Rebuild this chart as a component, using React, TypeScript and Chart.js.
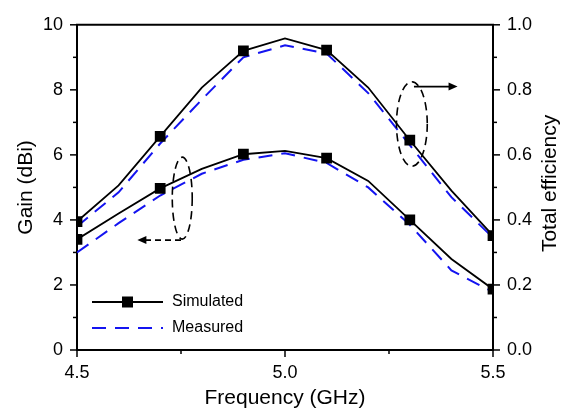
import React, { useEffect, useRef } from "react";
import { Chart, registerables } from "chart.js";

Chart.register(...registerables);

const freqs = [4.5, 4.6, 4.7, 4.8, 4.9, 5.0, 5.1, 5.2, 5.3, 5.4, 5.5];
const gainSimulated = [3.4, 4.2, 4.97, 5.57, 6.02, 6.12, 5.9, 5.2, 4.0, 2.8, 1.87];
const gainMeasured = [3.0, 3.9, 4.75, 5.42, 5.85, 6.05, 5.75, 5.0, 3.85, 2.45, 1.78];
const effSimulated = [0.395, 0.506, 0.657, 0.807, 0.92, 0.958, 0.922, 0.807, 0.645, 0.49, 0.352];
const effMeasured = [0.38, 0.485, 0.635, 0.77, 0.9, 0.937, 0.912, 0.79, 0.63, 0.47, 0.345];
const markerEvery = 2;
const xTicks = [4.5, 5.0, 5.5];
const xMinorTicks = [4.75, 5.25];
const gainTicks = [0, 2, 4, 6, 8, 10];
const gainMinorTicks = [1, 3, 5, 7, 9];
const effTicks = [0, 0.2, 0.4, 0.6, 0.8, 1.0];
const effMinorTicks = [0.1, 0.3, 0.5, 0.7, 0.9];
const legendLabels = ["Simulated", "Measured"];
const xTitle = "Frequency (GHz)";
const gainTitle = "Gain (dBi)";
const effTitle = "Total efficiency";

const FONT = "'Liberation Sans', Arial, sans-serif";
const BLUE = "#1414f0";
const DASH = [14, 9];
const TICK_SIZE = 18;
const TITLE_SIZE = 21;

const toPts = (ys: number[]) => freqs.map((x, i) => ({ x, y: ys[i] }));
const markerRadii = freqs.map((_, i) => (i % markerEvery === 0 ? 7.6 : 0));

const decorPlugin = {
  id: "decor",
  afterDraw(chart: any) {
    const { ctx, chartArea: a, scales } = chart;
    const xs = scales.x, yl = scales.y, yr = scales.y2;
    ctx.save();
    ctx.strokeStyle = "#000";
    ctx.lineWidth = 2;
    // top border
    ctx.beginPath();
    ctx.moveTo(a.left - 1, a.top);
    ctx.lineTo(a.right + 1, a.top);
    ctx.stroke();
    // ticks
    ctx.lineWidth = 1.5;
    const tick = (x1: number, y1: number, x2: number, y2: number) => {
      ctx.beginPath();
      ctx.moveTo(x1, y1);
      ctx.lineTo(x2, y2);
      ctx.stroke();
    };
    gainTicks.forEach((v) => { const y = yl.getPixelForValue(v); tick(a.left - 7, y, a.left, y); });
    gainMinorTicks.forEach((v) => { const y = yl.getPixelForValue(v); tick(a.left - 4, y, a.left, y); });
    effTicks.forEach((v) => { const y = yr.getPixelForValue(v); tick(a.right, y, a.right + 7, y); });
    effMinorTicks.forEach((v) => { const y = yr.getPixelForValue(v); tick(a.right, y, a.right + 4, y); });
    xTicks.forEach((v) => { const x = xs.getPixelForValue(v); tick(x, a.bottom, x, a.bottom + 7); });
    xMinorTicks.forEach((v) => { const x = xs.getPixelForValue(v); tick(x, a.bottom, x, a.bottom + 4); });

    // right title
    ctx.save();
    ctx.fillStyle = "#000";
    ctx.font = `${TITLE_SIZE}px ${FONT}`;
    ctx.textAlign = "center";
    ctx.textBaseline = "middle";
    ctx.translate(550, (a.top + a.bottom) / 2 - 4);
    ctx.rotate(-Math.PI / 2);
    ctx.fillText(effTitle, 0, 0);
    ctx.restore();

    // annotations: ellipses + arrows
    ctx.strokeStyle = "#000";
    ctx.lineWidth = 1.6;
    ctx.setLineDash([8, 5]);
    // left ellipse (gain)
    let cx = xs.getPixelForValue(4.753), cy = yl.getPixelForValue(4.67);
    let rx = xs.getPixelForValue(4.777) - cx, ry = cy - yl.getPixelForValue(5.93);
    ctx.beginPath();
    ctx.ellipse(cx, cy, rx, ry, 0, 0, Math.PI * 2);
    ctx.stroke();
    // left arrow (dashed)
    const ay = yl.getPixelForValue(3.38);
    const ax1 = xs.getPixelForValue(4.75), ax2 = xs.getPixelForValue(4.65);
    ctx.setLineDash([6, 4]);
    ctx.beginPath();
    ctx.moveTo(ax1, ay);
    ctx.lineTo(ax2 + 2, ay);
    ctx.stroke();
    ctx.setLineDash([]);
    ctx.fillStyle = "#000";
    ctx.beginPath();
    ctx.moveTo(ax2 - 2, ay);
    ctx.lineTo(ax2 + 7, ay - 4);
    ctx.lineTo(ax2 + 7, ay + 4);
    ctx.closePath();
    ctx.fill();
    // right ellipse (efficiency)
    ctx.setLineDash([8, 5]);
    cx = xs.getPixelForValue(5.305); cy = yr.getPixelForValue(0.695);
    rx = xs.getPixelForValue(5.342) - cx; ry = cy - yr.getPixelForValue(0.825);
    ctx.beginPath();
    ctx.ellipse(cx, cy, rx, ry, 0, 0, Math.PI * 2);
    ctx.stroke();
    // right arrow (solid)
    ctx.setLineDash([]);
    const by = yr.getPixelForValue(0.81);
    const bx1 = xs.getPixelForValue(5.31), bx2 = xs.getPixelForValue(5.41);
    ctx.beginPath();
    ctx.moveTo(bx1, by);
    ctx.lineTo(bx2 - 2, by);
    ctx.stroke();
    ctx.beginPath();
    ctx.moveTo(bx2 + 2, by);
    ctx.lineTo(bx2 - 7, by - 4);
    ctx.lineTo(bx2 - 7, by + 4);
    ctx.closePath();
    ctx.fill();

    // legend
    const lx1 = a.left + 15, lx2 = a.left + 86, tx = a.left + 95;
    const ly1 = a.bottom - 48, ly2 = a.bottom - 22;
    ctx.lineWidth = 1.8;
    ctx.strokeStyle = "#000";
    ctx.beginPath();
    ctx.moveTo(lx1, ly1);
    ctx.lineTo(lx2, ly1);
    ctx.stroke();
    const s = 11;
    ctx.fillRect((lx1 + lx2) / 2 - s / 2, ly1 - s / 2, s, s);
    ctx.strokeStyle = BLUE;
    ctx.lineWidth = 2;
    ctx.setLineDash(DASH);
    ctx.beginPath();
    ctx.moveTo(lx1, ly2);
    ctx.lineTo(lx2, ly2);
    ctx.stroke();
    ctx.setLineDash([]);
    ctx.fillStyle = "#000";
    ctx.font = `16px ${FONT}`;
    ctx.textAlign = "left";
    ctx.textBaseline = "middle";
    ctx.fillText(legendLabels[0], tx, ly1);
    ctx.fillText(legendLabels[1], tx, ly2);
    ctx.restore();
  },
};

export default function App() {
  const ref = useRef<HTMLCanvasElement | null>(null);
  useEffect(() => {
    if (!ref.current) return;
    const tickFont = { family: FONT, size: TICK_SIZE };
    const titleFont = { family: FONT, size: TITLE_SIZE };
    const chart = new Chart(ref.current, {
      type: "line",
      data: {
        datasets: [
          {
            label: legendLabels[0] + " gain",
            data: toPts(gainSimulated),
            yAxisID: "y",
            borderColor: "#000",
            backgroundColor: "#000",
            borderWidth: 1.8,
            pointStyle: "rect",
            pointRadius: markerRadii,
            pointBorderWidth: 0,
            tension: 0,
            order: 1,
          },
          {
            label: legendLabels[1] + " gain",
            data: toPts(gainMeasured),
            yAxisID: "y",
            borderColor: BLUE,
            borderWidth: 2,
            borderDash: DASH,
            pointRadius: 0,
            tension: 0,
            order: 2,
          },
          {
            label: legendLabels[0] + " efficiency",
            data: toPts(effSimulated),
            yAxisID: "y2",
            borderColor: "#000",
            backgroundColor: "#000",
            borderWidth: 1.8,
            pointStyle: "rect",
            pointRadius: markerRadii,
            pointBorderWidth: 0,
            tension: 0,
            order: 1,
          },
          {
            label: legendLabels[1] + " efficiency",
            data: toPts(effMeasured),
            yAxisID: "y2",
            borderColor: BLUE,
            borderWidth: 2,
            borderDash: DASH,
            pointRadius: 0,
            tension: 0,
            order: 2,
          },
        ],
      },
      options: {
        responsive: false,
        animation: false,
        events: [],
        layout: { padding: { top: 18, left: 0, right: 0, bottom: 0 } },
        plugins: { legend: { display: false }, tooltip: { enabled: false } },
        scales: {
          x: {
            type: "linear",
            min: 4.5,
            max: 5.5,
            afterFit: (s: any) => { s.height = 58; },
            afterBuildTicks: (s: any) => { s.ticks = xTicks.map((v) => ({ value: v })); },
            ticks: { font: tickFont, color: "#000", padding: 12, maxRotation: 0, callback: (v: any) => Number(v).toFixed(1) },
            grid: { display: true, drawOnChartArea: false, drawTicks: false, color: "rgba(0,0,0,0)" },
            border: { display: true, color: "#000", width: 2 },
            title: { display: true, text: xTitle, font: titleFont, color: "#000", padding: { top: 0, bottom: -3 } },
          },
          y: {
            position: "left",
            min: 0,
            max: 10,
            afterFit: (s: any) => { s.width = 77; },
            afterBuildTicks: (s: any) => { s.ticks = gainTicks.map((v) => ({ value: v })); },
            ticks: { font: tickFont, color: "#000", padding: 14 },
            grid: { display: true, drawOnChartArea: false, drawTicks: false, color: "rgba(0,0,0,0)" },
            border: { display: true, color: "#000", width: 2 },
            title: { display: true, text: gainTitle, font: titleFont, color: "#000", padding: { top: 14, bottom: 0 } },
          },
          y2: {
            position: "right",
            min: 0,
            max: 1,
            afterFit: (s: any) => { s.width = 72; },
            afterBuildTicks: (s: any) => { s.ticks = effTicks.map((v) => ({ value: v })); },
            ticks: { font: tickFont, color: "#000", padding: 14, callback: (v: any) => Number(v).toFixed(1) },
            grid: { display: true, drawOnChartArea: false, drawTicks: false, color: "rgba(0,0,0,0)" },
            border: { display: true, color: "#000", width: 2 },
          },
        },
      },
      plugins: [decorPlugin],
    } as any);
    return () => chart.destroy();
  }, []);
  return (
    <div style={{ position: "absolute", left: 0, top: 0, width: 565, height: 408, background: "#fff" }}>
      <canvas ref={ref} width={565} height={408} style={{ display: "block" }} />
    </div>
  );
}
